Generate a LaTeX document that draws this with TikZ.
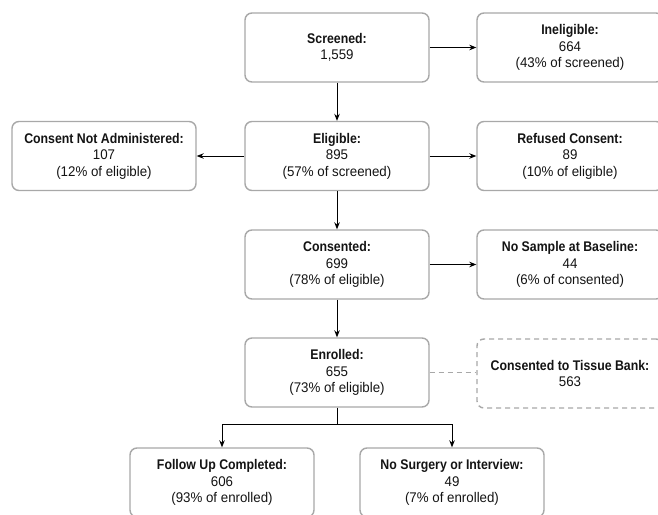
\documentclass[tikz,border=0pt]{standalone}
\usepackage{fontspec}
\setmainfont{Liberation Sans}[FakeStretch=0.95, BoldFeatures={FakeStretch=0.88}]
\usetikzlibrary{arrows.meta}
\definecolor{boxgray}{HTML}{A8A8A8}
\definecolor{txt}{HTML}{141414}
\tikzset{
 box/.style={draw=boxgray, line width=1.4pt, rounded corners=7pt, minimum width=184pt, minimum height=69pt, inner sep=0pt, align=center, text=txt, font=\fontsize{14}{16.5}\selectfont},
 dbox/.style={box, dashed, dash pattern=on 5pt off 4pt},
 arr/.style={-{Stealth[length=7pt,width=5.5pt]}, line width=0.9pt, draw=black},
 link/.style={draw=boxgray, line width=1.4pt, dash pattern=on 5pt off 4pt},
}
\begin{document}
\begin{tikzpicture}[x=1pt,y=-1pt]
\useasboundingbox (0,0) rectangle (658,514);
\fill[white] (0,0) rectangle (658,514);
\clip (0,0) rectangle (658,514);
\node[box] (scr) at (337,47.5) {\textbf{Screened:}\\1,559};
\node[box, minimum width=186pt] (inel) at (570,47.5) {\textbf{Ineligible:}\\664\\(43\% of screened)};
\node[box] (cna) at (104,156) {\textbf{Consent Not Administered:}\\107\\(12\% of eligible)};
\node[box] (elig) at (337,156) {\textbf{Eligible:}\\895\\(57\% of screened)};
\node[box, minimum width=186pt] (ref) at (570,156) {\textbf{Refused Consent:}\\89\\(10\% of eligible)};
\node[box] (cons) at (337,264.5) {\textbf{Consented:}\\699\\(78\% of eligible)};
\node[box, minimum width=186pt] (nosa) at (570,264.5) {\textbf{No Sample at Baseline:}\\44\\(6\% of consented)};
\node[box] (enr) at (337,372.5) {\textbf{Enrolled:}\\655\\(73\% of eligible)};
\node[dbox, minimum width=186pt] (tis) at (570,373.5) {\textbf{Consented to Tissue Bank:}\\563};
\node[box] (fu) at (222,482.5) {\textbf{Follow Up Completed:}\\606\\(93\% of enrolled)};
\node[box] (ns) at (452,482.5) {\textbf{No Surgery or Interview:}\\49\\(7\% of enrolled)};
\draw[arr] (scr) -- (inel);
\draw[arr] (scr) -- (elig);
\draw[arr] (elig) -- (cna);
\draw[arr] (elig) -- (ref);
\draw[arr] (elig) -- (cons);
\draw[arr] (cons) -- (nosa);
\draw[arr] (cons) -- (enr);
\draw[link] (enr.east) -- (enr.east -| tis.west);
\coordinate (j) at ([yshift=-17pt]enr.south);
\draw[line width=0.9pt] (enr.south) -- (j);
\draw[arr] (j) -| (fu.north);
\draw[arr] (j) -| (ns.north);
\end{tikzpicture}
\end{document}
